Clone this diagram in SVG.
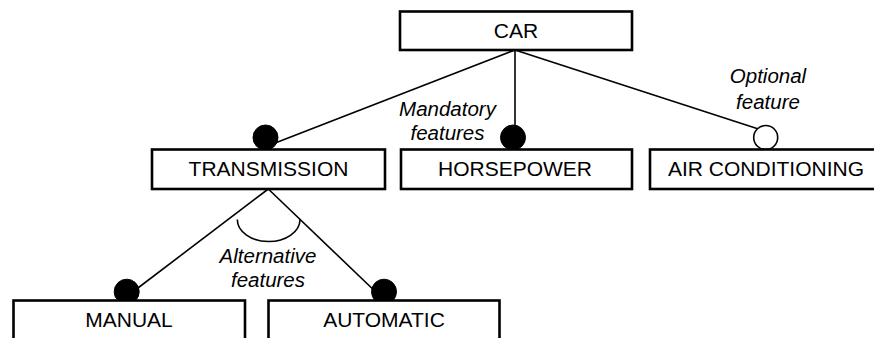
<svg xmlns="http://www.w3.org/2000/svg" width="874" height="338" viewBox="0 0 874 338">
<style>
.box{fill:#fff;stroke:#000;stroke-width:2.6}
.lbl{font-family:"Liberation Sans",Arial,sans-serif;font-size:21px;text-anchor:middle;fill:#000}
.note{font-family:"Liberation Sans",Arial,sans-serif;font-size:20.5px;font-style:italic;text-anchor:middle;fill:#000}
.ln{stroke:#000;stroke-width:1.6;fill:none}
.dot{fill:#000;stroke:#000;stroke-width:1}
.odot{fill:#fff;stroke:#000;stroke-width:1.6}
</style>
<rect width="874" height="338" fill="#fff"/>
<g id="connectors">
<line class="ln" x1="515" y1="50" x2="270" y2="145"/>
<line class="ln" x1="515" y1="50" x2="515" y2="130"/>
<line class="ln" x1="515" y1="50" x2="760" y2="129.5"/>
<line class="ln" x1="268.3" y1="189" x2="130" y2="294"/>
<line class="ln" x1="268.3" y1="189" x2="380" y2="296"/>
<path class="ln" d="M237.3 219.5 A31.3 22 0 0 0 300 219.5"/>
<circle class="dot" cx="265.5" cy="137.5" r="12.5"/>
<circle class="dot" cx="513" cy="137.5" r="12.5"/>
<circle class="odot" cx="765.7" cy="137.5" r="12"/>
<circle class="dot" cx="126.7" cy="291.7" r="12.5"/>
<circle class="dot" cx="384" cy="291.7" r="12.5"/>
</g>
<g id="car"><rect class="box" x="400" y="11.5" width="232" height="38.5"/><text class="lbl" x="516" y="37.5">CAR</text></g>
<g id="transmission"><rect class="box" x="152" y="149.5" width="233" height="39.5"/><text class="lbl" x="268.5" y="175.5">TRANSMISSION</text></g>
<g id="horsepower"><rect class="box" x="401" y="149.5" width="231" height="39.5"/><text class="lbl" x="515" y="175.5">HORSEPOWER</text></g>
<g id="airconditioning"><rect class="box" x="650" y="149.5" width="240" height="39.5"/><text class="lbl" x="766" y="175.5">AIR CONDITIONING</text></g>
<g id="manual"><rect class="box" x="13.5" y="300.5" width="231.5" height="50"/><text class="lbl" x="129" y="327">MANUAL</text></g>
<g id="automatic"><rect class="box" x="268.5" y="300.5" width="231" height="50"/><text class="lbl" x="384" y="327">AUTOMATIC</text></g>
<g id="labels">
<text class="note" x="447.5" y="115.5">Mandatory</text>
<text class="note" x="447.5" y="139.5">features</text>
<text class="note" x="768" y="83.3">Optional</text>
<text class="note" x="768" y="109.3">feature</text>
<text class="note" x="268" y="262.5">Alternative</text>
<text class="note" x="268" y="287">features</text>
</g>
</svg>
